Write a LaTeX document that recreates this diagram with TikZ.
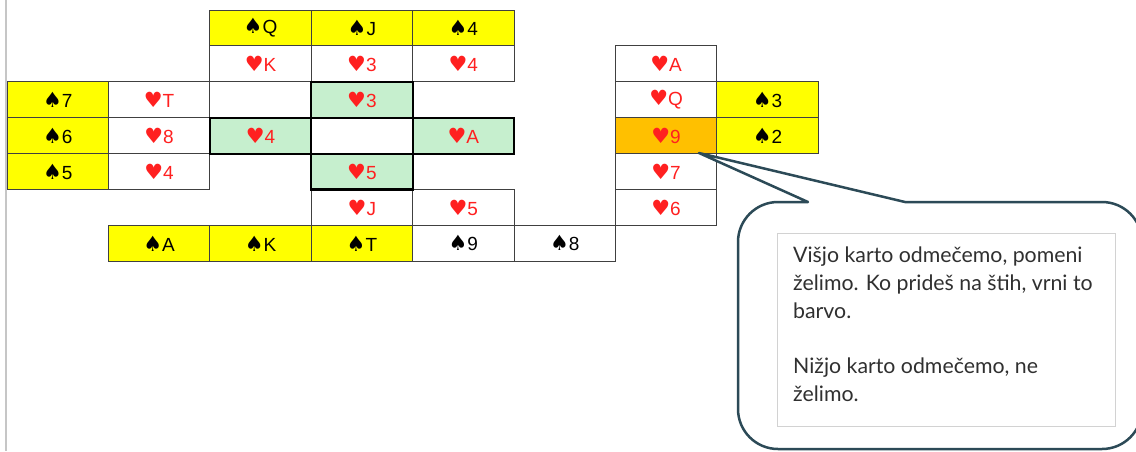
\documentclass[tikz,border=0pt]{standalone}
\usepackage{fontspec}
\setmainfont{Liberation Sans}
\newfontfamily\symfont{DejaVu Sans}
\newfontfamily\callfont{Lato}
\usetikzlibrary{calc}
\definecolor{cyel}{HTML}{FFFF00}
\definecolor{cgrn}{HTML}{C6EFCE}
\definecolor{corg}{HTML}{FFC000}
\definecolor{cred}{HTML}{FF2020}
\definecolor{cline}{HTML}{404040}
\definecolor{ccall}{HTML}{2C4A57}
\definecolor{ctext}{HTML}{303030}
\newcommand\Sp[1]{{\symfont\fontsize{21}{20}\selectfont ♠}#1}
\newcommand\Ht[1]{\textcolor{cred}{{\symfont\fontsize{21}{20}\selectfont ♥}#1}}
\newcommand\card[5][]{\node[cellbox,#1] (#2) at ({7+101.4*(#3+0.5)},{10+35.9*(#4+0.5)}) {#5};}
\begin{document}
\begin{tikzpicture}[x=1pt,y=-1pt,
  cellbox/.style={draw=cline, line width=1pt, fill=white, minimum width=101.4pt, minimum height=35.9pt, inner sep=0pt, font=\fontsize{19}{20}\selectfont},
  yel/.style={fill=cyel},
  grn/.style={fill=cgrn},
  org/.style={fill=corg},
  thickcell/.style={draw=black, line width=2.2pt},
  callout/.style={draw=ccall, line width=2.5pt, line join=round, fill=white}]
\clip (0,0) rectangle (1136,451);
\fill[white] (0,0) rectangle (1136,451);
\draw[gray!45, line width=1.2pt] (6,0) -- (6,451);
% row 0
\card[yel]{sq}{2}{0}{\Sp{Q}}
\card[yel]{sj}{3}{0}{\Sp{J}}
\card[yel]{sf}{4}{0}{\Sp{4}}
% row 1
\card{hk}{2}{1}{\Ht{K}}
\card{hthree}{3}{1}{\Ht{3}}
\card{hfour}{4}{1}{\Ht{4}}
\card{ha}{6}{1}{\Ht{A}}
% row 2
\card[yel]{s7}{0}{2}{\Sp{7}}
\card{ht}{1}{2}{\Ht{T}}
\card{eone}{2}{2}{}
\card{hq}{6}{2}{\Ht{Q}}
\card[yel]{s3}{7}{2}{\Sp{3}}
% row 3
\card[yel]{s6}{0}{3}{\Sp{6}}
\card{h8}{1}{3}{\Ht{8}}
\card[org]{h9}{6}{3}{\Ht{9}}
\card[yel]{s2}{7}{3}{\Sp{2}}
% row 4
\card[yel]{s5}{0}{4}{\Sp{5}}
\card{hfourc}{1}{4}{\Ht{4}}
\card{h7}{6}{4}{\Ht{7}}
% row 5
\card{hj}{3}{5}{\Ht{J}}
\card{hfive}{4}{5}{\Ht{5}}
\card{h6}{6}{5}{\Ht{6}}
% row 6
\card[yel]{sa}{1}{6}{\Sp{A}}
\card[yel]{sk}{2}{6}{\Sp{K}}
\card[yel]{st}{3}{6}{\Sp{T}}
\card{s9}{4}{6}{\Sp{9}}
\card{s8}{5}{6}{\Sp{8}}
% thick (played) cells
\card[grn,thickcell]{hthreeb}{3}{2}{\Ht{3}}
\card[grn,thickcell]{hfourb}{2}{3}{\Ht{4}}
\card[thickcell]{etwo}{3}{3}{}
\card[grn,thickcell]{hab}{4}{3}{\Ht{A}}
\card[grn,thickcell]{hfiveb}{3}{4}{\Ht{5}}
% callout
\coordinate (tip) at (699,153);
\draw[callout] (790,202) -- (808,202) -- (tip) -- (905,202) -- (1000,202)
  [rounded corners=40pt] -- (1142,202) -- (1142,449) -- (738,449) -- (738,202) -- (790,202);
\node[draw=gray!35, line width=0.8pt, anchor=north west, minimum width=338pt, minimum height=193pt, inner sep=0pt] (tbox) at (777,233) {};
\node[anchor=north west, align=left, inner sep=0pt, text=ctext, font=\callfont\fontsize{21.3}{28}\selectfont] (txt) at (793,247)
  {Višjo karto odmečemo, pomeni\\ želimo. Ko prideš na štih, vrni to\\ barvo.\\[27pt] Nižjo karto odmečemo, ne\\ želimo.};
\end{tikzpicture}
\end{document}
